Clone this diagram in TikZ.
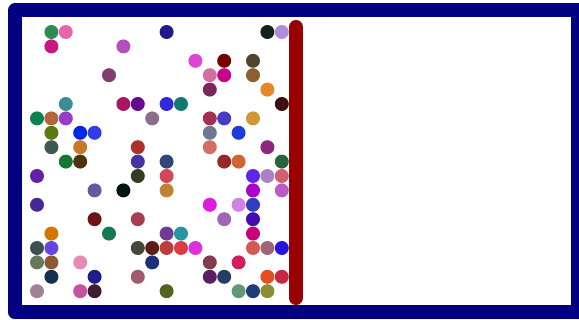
\documentclass[tikz,border=0pt]{standalone}
\definecolor{wallblue}{RGB}{0,0,128}
\definecolor{pistonred}{RGB}{153,0,0}

\begin{document}
\begin{tikzpicture}[x=1pt, y=-1pt,
    wall/.style={draw=wallblue, line width=14pt, line join=round},
    piston/.style={draw=pistonred, line width=14pt, line cap=round},
    P/.style={circle, draw=none, minimum size=14pt, inner sep=0pt}]
  \useasboundingbox (0,0) rectangle (579,320);
  \clip (0,0) rectangle (579,320);
  \def\dx{14.4}
  \def\xo{37}          % first lattice column
  \def\yo{32}          % first lattice row
  \draw[wall] (15,10.5) rectangle (578,312.5);
  \foreach \i/\j/\R/\G/\B [count=\k] in {
      1/0/46/140/80, 2/0/230/100/170, 1/1/200/25/130, 6/1/180/80/190,
      5/3/130/60/110, 2/5/60/140/150, 6/5/170/20/100, 7/5/100/10/140,
      9/0/35/25/140, 16/0/20/35/25, 17/0/175/140/220, 11/2/220/70/210,
      13/2/120/0/0, 15/2/80/70/45, 12/3/210/110/160, 13/3/200/0/140,
      15/3/140/95/50, 12/4/120/40/90, 16/4/230/135/40, 9/5/50/40/220,
      10/5/20/120/110, 17/5/60/15/20, 0/6/10/130/80, 1/6/180/100/60,
      2/6/150/60/200, 8/6/140/110/140, 1/7/90/120/20, 3/7/0/40/230,
      4/7/50/60/230, 1/8/60/90/80, 3/8/200/120/40, 7/8/170/50/40,
      2/9/20/120/50, 3/9/80/50/10, 7/9/70/50/160, 0/10/100/30/170,
      7/10/50/60/30, 4/11/100/90/160, 6/11/0/20/20, 0/12/70/40/150,
      12/6/160/50/80, 13/6/70/60/200, 15/6/210/150/50, 12/7/110/120/150,
      14/7/30/60/220, 12/8/210/110/100, 16/8/140/40/130, 9/9/50/70/120,
      13/9/150/40/40, 14/9/210/100/50, 17/9/40/100/60, 9/10/210/70/90,
      15/10/90/40/230, 16/10/170/130/200, 17/10/210/95/110, 9/11/190/130/50,
      15/11/170/0/200, 17/11/190/90/200, 12/12/220/30/220, 14/12/210/130/230,
      15/12/50/60/190, 4/13/110/20/20, 7/13/170/60/80, 5/14/20/120/80,
      1/14/210/120/0, 0/15/60/80/80, 1/15/100/70/230, 7/15/70/70/60,
      8/15/90/30/20, 0/16/100/120/90, 1/16/140/90/50, 3/16/230/140/180,
      8/16/30/50/120, 1/17/20/50/80, 4/17/30/30/140, 7/17/160/90/110,
      0/18/160/130/150, 3/18/200/80/160, 4/18/60/30/50, 13/13/160/100/180,
      15/13/70/10/180, 9/14/110/60/150, 10/14/40/150/160, 15/14/200/0/120,
      9/15/190/60/60, 10/15/220/60/70, 11/15/220/50/220, 15/15/210/90/80,
      16/15/160/100/120, 17/15/40/20/220, 12/16/130/60/80, 14/16/210/30/90,
      12/17/90/30/100, 13/17/40/60/100, 16/17/230/80/30, 17/17/200/40/70,
      9/18/80/100/30, 14/18/100/150/120, 15/18/30/60/120, 16/18/140/140/50} {
    \definecolor{pc}{RGB}{\R,\G,\B}
    \node[P, fill=pc] (p\k) at ({\xo+\i*\dx},{\yo+\j*\dx}) {};
  }
  \draw[piston] (296,27) -- (296,298);
\end{tikzpicture}
\end{document}
